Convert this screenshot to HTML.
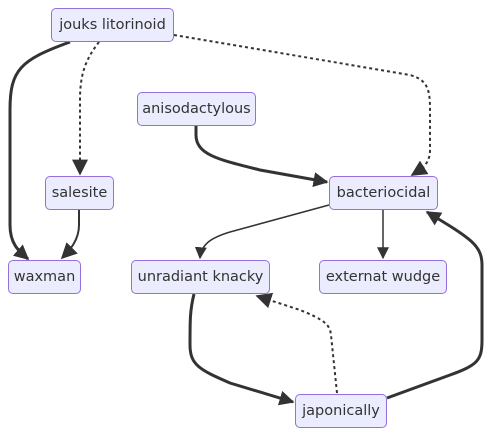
<!DOCTYPE html>
<html><head><style>
body{margin:0;background:#fff;width:490px;height:436px;overflow:hidden}
.n{position:absolute;box-sizing:border-box;background:#ececff;border:1px solid #9370db;border-radius:5px;font-family:"DejaVu Sans","Liberation Sans",sans-serif;font-size:14.5px;color:#333;display:flex;align-items:center;justify-content:center;height:34px;white-space:nowrap}
</style></head><body>
<svg width="490" height="436" style="position:absolute;left:0;top:0">
<defs><marker id="a" viewBox="0 0 10 10" refX="9" refY="5" markerWidth="5" markerHeight="5" orient="auto"><path d="M0,0L10,5L0,10z" fill="#333"/></marker>
<marker id="b" viewBox="0 0 10 10" refX="9" refY="5" markerWidth="8" markerHeight="8" orient="auto"><path d="M0,0L10,5L0,10z" fill="#333"/></marker></defs>
<g fill="none" stroke="#333">
<path d="M70,42 C20,60 10,70 10,110 L10,225 C10,245 20,252 28,259" stroke-width="3" marker-end="url(#a)"/>
<path d="M99,42 C85,60 80,75 80,100 L80,174" stroke-width="2" stroke-dasharray="3,3" marker-end="url(#b)"/>
<path d="M174,35 L410,75 C428,80 430,90 430,110 L430,150 C430,165 420,170 412,175" stroke-width="2" stroke-dasharray="3,3" marker-end="url(#b)"/>
<path d="M79,210 L79,225 C79,240 70,250 62,258" stroke-width="2" marker-end="url(#b)"/>
<path d="M196,126 L196,135 C196,155 220,160 260,170 L327,182" stroke-width="3" marker-end="url(#a)"/>
<path d="M329,205 L230,232 C210,238 201,245 200,258" stroke-width="1.5" marker-end="url(#b)"/>
<path d="M383,210 L383,258" stroke-width="1.5" marker-end="url(#b)"/>
<path d="M194,294 C190,310 190,320 190,345 C190,365 200,370 230,383 L293,402" stroke-width="3" marker-end="url(#a)"/>
<path d="M337,393 L331,335 C330,325 325,320 300,310 L257,296" stroke-width="2" stroke-dasharray="3,3" marker-end="url(#b)"/>
<path d="M387,398 L450,375 C478,365 482,360 482,340 L482,265 C482,245 470,238 427,212" stroke-width="3" marker-end="url(#a)"/>
</g></svg>
<div class="n" style="left:51px;top:8px;width:123px">jouks litorinoid</div>
<div class="n" style="left:137px;top:92px;width:119px">anisodactylous</div>
<div class="n" style="left:45px;top:176px;width:69px">salesite</div>
<div class="n" style="left:329px;top:176px;width:109px">bacteriocidal</div>
<div class="n" style="left:8px;top:260px;width:73px">waxman</div>
<div class="n" style="left:131px;top:260px;width:139px">unradiant knacky</div>
<div class="n" style="left:319px;top:260px;width:128px">externat wudge</div>
<div class="n" style="left:295px;top:394px;width:92px">japonically</div>
</body></html>
